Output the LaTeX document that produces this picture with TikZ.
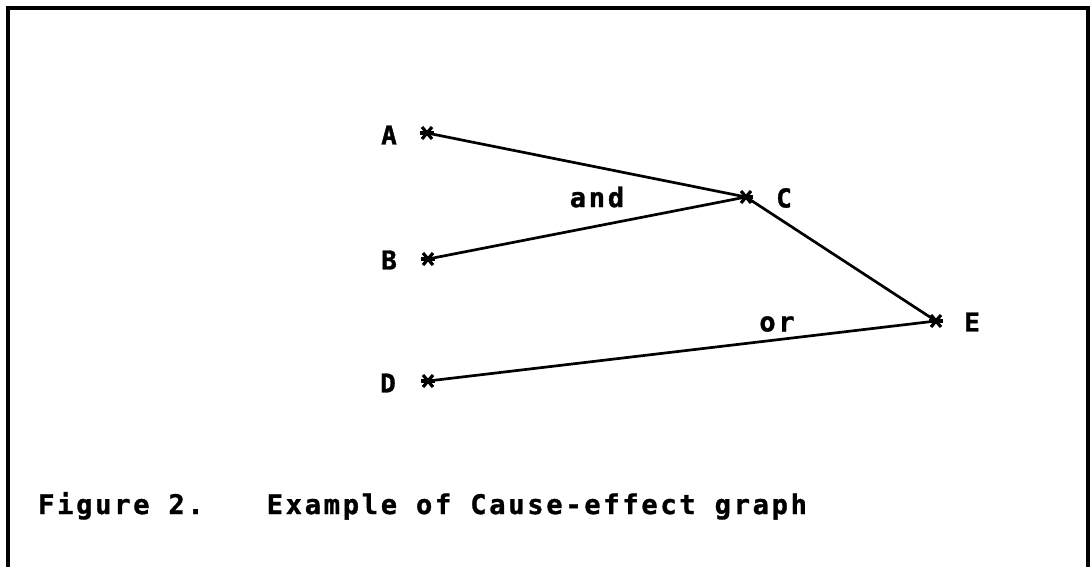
\documentclass[tikz,border=0pt]{standalone}
\usepackage{fontspec}
\usetikzlibrary{positioning}
\newfontfamily\graphfont{DejaVu Sans Mono Bold}[FakeBold=1.2]
\newfontfamily\spacedfont{DejaVu Sans Mono Bold}[LetterSpace=10.2, FakeBold=1.2]

\begin{document}
\begin{tikzpicture}[
  x=1pt, y=-1pt,
  cause/.style={coordinate},
  lbl/.style={inner sep=0pt, font={\graphfont\fontsize{26}{30}\selectfont}},
  rel/.style={inner sep=0pt, font={\spacedfont\fontsize{27}{31}\selectfont\spaceskip 19pt\relax}},
  link/.style={line width=2.7pt, line cap=round},
  xmk/.style={line width=3.2pt},
  frame/.style={line width=4pt}
]
\useasboundingbox (0,0) rectangle (1092,566);

% frame, open at the bottom
\draw[frame] (8,570) -- (8,8) -- (1088,8) -- (1088,570);

\node[cause] (A) at (427,133) {};
\node[cause] (B) at (428,259) {};
\node[cause] (C) at (746,197) {};
\node[cause] (D) at (428,381) {};
\node[cause] (E) at (936,321) {};

\node[lbl] (labA) at (389,135) {A};
\node[lbl] (labB) at (389,260) {B};
\node[lbl] (labC) at (784,198) {C};
\node[lbl] (labD) at (388,383) {D};
\node[lbl] (labE) at (972,322) {E};

\draw[link] (A) -- (C);
\draw[link] (B) -- (C);
\draw[link] (C) -- (E);
\draw[link] (D) -- (E);

\foreach \s in {A,B,C,D,E} {
  \draw[xmk] ([shift={(-7,0)}]\s) -- ([shift={(7,0)}]\s);
  \draw[xmk] ([shift={(-5,-6)}]\s) -- ([shift={(5,6)}]\s);
  \draw[xmk] ([shift={(-5,6)}]\s) -- ([shift={(5,-6)}]\s);
}

\node[rel] (and) at (597,197) {and};
\node[rel] (or) at (777,324) {or};

\node[rel, anchor=base west] (caption) at (38,514)
  {Figure 2.\hspace{63pt}Example of Cause-effect graph};
\end{tikzpicture}
\end{document}
